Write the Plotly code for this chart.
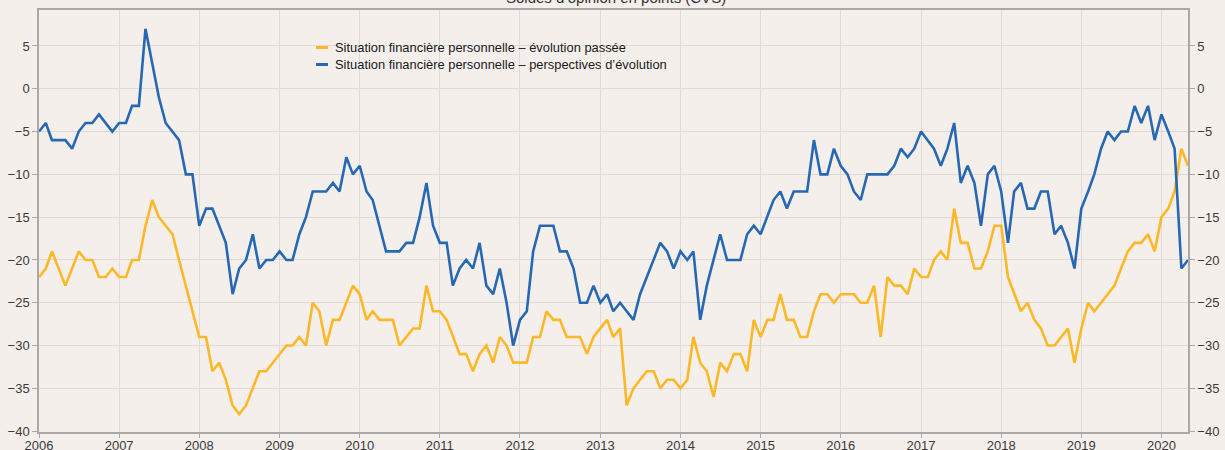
import pandas as pd
import plotly.graph_objects as go

# monthly balances of opinion, Jan 2006 - May 2020
passee = [
    -22, -21, -19, -21, -23, -21, -19, -20, -20, -22, -22, -21,  # 2006
    -22, -22, -20, -20, -16, -13, -15, -16, -17, -20, -23, -26,  # 2007
    -29, -29, -33, -32, -34, -37, -38, -37, -35, -33, -33, -32,  # 2008
    -31, -30, -30, -29, -30, -25, -26, -30, -27, -27, -25, -23,  # 2009
    -24, -27, -26, -27, -27, -27, -30, -29, -28, -28, -23, -26,  # 2010
    -26, -27, -29, -31, -31, -33, -31, -30, -32, -29, -30, -32,  # 2011
    -32, -32, -29, -29, -26, -27, -27, -29, -29, -29, -31, -29,  # 2012
    -28, -27, -29, -28, -37, -35, -34, -33, -33, -35, -34, -34,  # 2013
    -35, -34, -29, -32, -33, -36, -32, -33, -31, -31, -33, -27,  # 2014
    -29, -27, -27, -24, -27, -27, -29, -29, -26, -24, -24, -25,  # 2015
    -24, -24, -24, -25, -25, -23, -29, -22, -23, -23, -24, -21,  # 2016
    -22, -22, -20, -19, -20, -14, -18, -18, -21, -21, -19, -16,  # 2017
    -16, -22, -24, -26, -25, -27, -28, -30, -30, -29, -28, -32,  # 2018
    -28, -25, -26, -25, -24, -23, -21, -19, -18, -18, -17, -19,  # 2019
    -15, -14, -12, -7, -9,                                       # 2020
]
perspectives = [
    -5, -4, -6, -6, -6, -7, -5, -4, -4, -3, -4, -5,              # 2006
    -4, -4, -2, -2, 7, 3, -1, -4, -5, -6, -10, -10,              # 2007
    -16, -14, -14, -16, -18, -24, -21, -20, -17, -21, -20, -20,  # 2008
    -19, -20, -20, -17, -15, -12, -12, -12, -11, -12, -8, -10,   # 2009
    -9, -12, -13, -16, -19, -19, -19, -18, -18, -15, -11, -16,   # 2010
    -18, -18, -23, -21, -20, -21, -18, -23, -24, -21, -25, -30,  # 2011
    -27, -26, -19, -16, -16, -16, -19, -19, -21, -25, -25, -23,  # 2012
    -25, -24, -26, -25, -26, -27, -24, -22, -20, -18, -19, -21,  # 2013
    -19, -20, -19, -27, -23, -20, -17, -20, -20, -20, -17, -16,  # 2014
    -17, -15, -13, -12, -14, -12, -12, -12, -6, -10, -10, -7,    # 2015
    -9, -10, -12, -13, -10, -10, -10, -10, -9, -7, -8, -7,       # 2016
    -5, -6, -7, -9, -7, -4, -11, -9, -11, -16, -10, -9,          # 2017
    -12, -18, -12, -11, -14, -14, -12, -12, -17, -16, -18, -21,  # 2018
    -14, -12, -10, -7, -5, -6, -5, -5, -2, -4, -2, -6,           # 2019
    -3, -5, -7, -21, -20,                                        # 2020
]
dates = pd.date_range("2006-01-01", periods=len(passee), freq="MS")

names = [
    "Situation financière personnelle – évolution passée",
    "Situation financière personnelle – perspectives d’évolution",
]
colors = ["#fdb827", "#2768b3"]
title = "Soldes d’opinion en points (CVS)"

font = "Liberation Sans, Arial, sans-serif"
bg = "#f5efec"
grid = "#dddad8"
axcol = "#a9a9a9"
yr = [-40.1, 9.2]

fig = go.Figure()
fig.add_trace(go.Scatter(x=dates, y=passee, name=names[0], mode="lines",
                         line=dict(color=colors[0], width=2.6), yaxis="y"))
fig.add_trace(go.Scatter(x=dates, y=perspectives, name=names[1], mode="lines",
                         line=dict(color=colors[1], width=2.6), yaxis="y2"))

# hand-drawn legend
for k, (nm, c) in enumerate(zip(names, colors)):
    ypos = 47.5 + 17 * k
    fig.add_shape(type="line", xref="paper", yref="paper",
                  x0=(316 - 39) / 1149, x1=(328 - 39) / 1149,
                  y0=1 - (ypos - 10) / 422, y1=1 - (ypos - 10) / 422,
                  line=dict(color=c, width=3))
    fig.add_annotation(text=nm, xref="paper", yref="paper",
                       x=(333 - 39) / 1149, y=1 - (ypos - 10) / 422,
                       xanchor="left", yanchor="middle", showarrow=False,
                       font=dict(family=font, size=12.9, color="#1a1a1a"))

fig.add_annotation(text=title, xref="paper", yref="paper", x=0.502, y=1,
                   xanchor="center", yanchor="middle", yshift=13, showarrow=False,
                   font=dict(family=font, size=15, color="#333333"))

tickfont = dict(family=font, size=13, color="#3a3a3a")
yticks = list(range(-40, 6, 5))
fig.update_layout(
    width=1225, height=450,
    margin=dict(l=39, r=37, t=10, b=18, autoexpand=False),
    paper_bgcolor=bg, plot_bgcolor=bg,
    showlegend=False,
    xaxis=dict(range=["2006-01-01", "2020-05-01"], dtick="M12", tickformat="%Y",
               showgrid=True, gridcolor=grid, gridwidth=1, automargin=False,
               showline=True, linecolor=axcol, linewidth=1.5, mirror=True,
               ticks="outside", ticklen=4, tickcolor=axcol, ticklabelstandoff=-3,
               tickfont=tickfont, zeroline=False),
    yaxis=dict(range=yr, tickvals=yticks, showgrid=True, gridcolor=grid, gridwidth=1,
               showline=True, linecolor=axcol, linewidth=1.5, automargin=False,
               ticks="outside", ticklen=5, tickcolor=axcol,
               tickfont=tickfont, zeroline=False),
    yaxis2=dict(range=yr, tickvals=yticks, overlaying="y", side="right",
                showgrid=False, showline=True, linecolor=axcol, linewidth=1.5,
                automargin=False, ticks="outside", ticklen=5, tickcolor=axcol,
                tickfont=tickfont, zeroline=False),
)

fig.write_html("out.html", config={"displayModeBar": False},
               post_script="document.body.style.margin='0px';document.body.style.overflow='hidden';")
